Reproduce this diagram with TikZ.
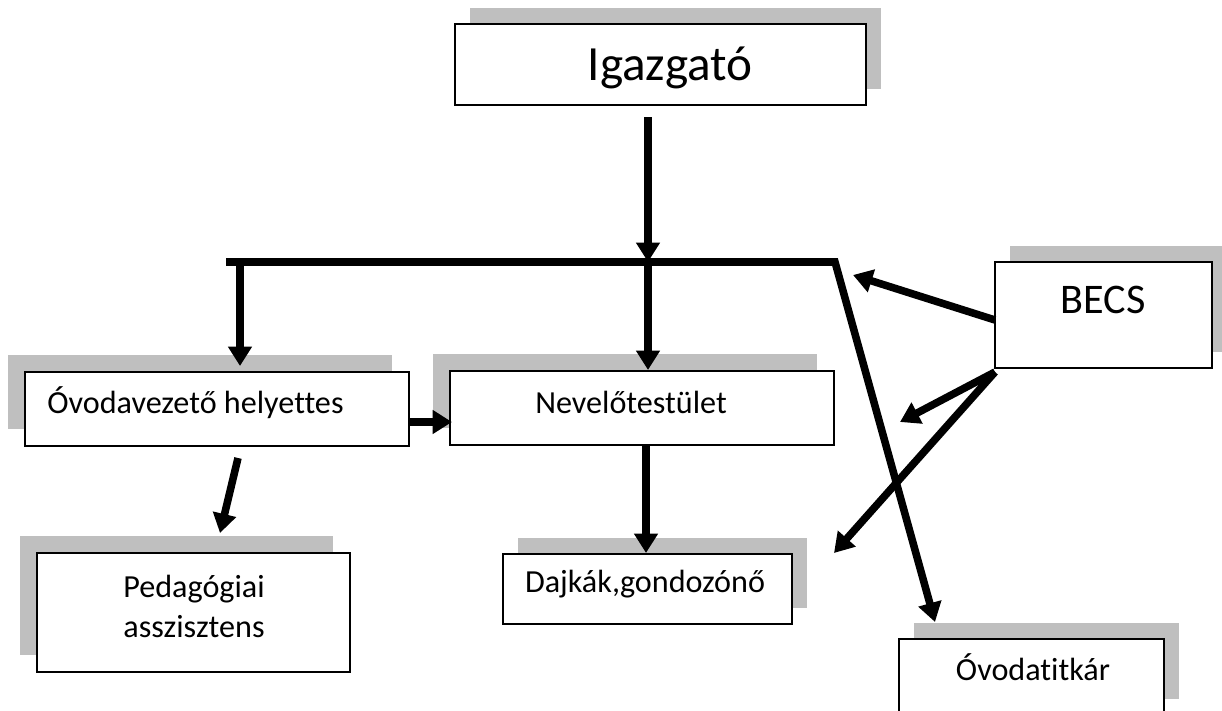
\documentclass[tikz,border=0pt]{standalone}
\usepackage{fontspec}
\setmainfont{Carlito}[Ligatures={NoCommon}]
\usetikzlibrary{arrows.meta,fit,shadows}
\definecolor{shadowgray}{RGB}{191,191,191}
\tikzset{
  box/.style={draw=black, line width=1.2pt, fill=white, inner sep=0pt},
  shR/.style={general shadow={fill=shadowgray, shadow xshift=0.3cm, shadow yshift=0.33cm}},
  shL/.style={general shadow={fill=shadowgray, shadow xshift=-0.34cm, shadow yshift=0.34cm}},
  big/.style={font=\fontsize{28}{33}\selectfont, inner sep=0pt},
  mid/.style={font=\fontsize{24}{28}\selectfont, inner sep=0pt},
  small/.style={font=\fontsize{18.3}{22.7}\selectfont, inner sep=0pt, align=center},
  conn/.style={line width=4.3pt},
  arr/.style={conn, -{Triangle[length=11pt,width=13pt]}}
}
\begin{document}
\begin{tikzpicture}[x=0.02cm,y=-0.02cm]
\clip (0,0) rectangle (1222,710);
\fill[white] (0,0) rectangle (1222,710);
% boxes
\node[box, shR, fit={(455,24) (866,105)}] (igaz) {};
\node[box, shL, fit={(25,372) (409,446)}] (ovh) {};
\node[box, shL, fit={(450,371) (834,445)}] (nev) {};
\node[box, shR, fit={(995,262) (1212,368)}] (becs) {};
\node[box, shL, fit={(37,553) (350,672)}] (ped) {};
\node[box, shR, fit={(503,554) (792,624)}] (daj) {};
\node[box, shR, fit={(899,639) (1164,715)}] (tit) {};
% texts
\node[big, anchor=base] (tigaz) at (670,80) {Igazgató};
\node[mid, anchor=base] (tbecs) at (1103,313) {BECS};
\node[small, anchor=base west] (tovh) at (47,413) {Óvodavezető helyettes};
\node[small, anchor=base] (tnev) at (631,413) {Nevelőtestület};
\node[small, anchor=base] (tped) at (194,637) {Pedagógiai\\asszisztens};
\node[small, anchor=base] (tdaj) at (645,592) {Dajkák,gondozónő};
\node[small, anchor=base] (ttit) at (1033,680) {Óvodatitkár};
% connector points
\coordinate (igout) at (648,117);
\coordinate (barM) at (648,262);
\coordinate (barL) at (226,262);
\coordinate (barR) at (835,262);
\coordinate (dropL) at (240,262);
\coordinate (ovhin) at (240,366);
\coordinate (nevin) at (648,370);
\coordinate (ovhR) at (409,422);
\coordinate (nevL) at (452,422);
\coordinate (ovhB) at (238,458);
\coordinate (pedin) at (220,533);
\coordinate (nevB) at (646,445);
\coordinate (dajin) at (646,553);
\coordinate (titin) at (935,622);
\coordinate (becsL) at (995,320);
\coordinate (becsC) at (995,372);
\coordinate (t1) at (853,275);
\coordinate (t2) at (900,422);
\coordinate (t3) at (834,553);
% connectors
\draw[arr] (igout) -- (barM);
\draw[arr, line join=miter] (barL) -- (barR) -- (titin);
\draw[arr] (dropL) -- (ovhin);
\draw[arr] (barM) -- (nevin);
\draw[arr] (ovhR) -- (nevL);
\draw[arr] (ovhB) -- (pedin);
\draw[arr] (nevB) -- (dajin);
\draw[arr] (becsL) -- (t1);
\draw[arr] (becsC) -- (t2);
\draw[arr] (becsC) -- (t3);
\end{tikzpicture}
\end{document}
